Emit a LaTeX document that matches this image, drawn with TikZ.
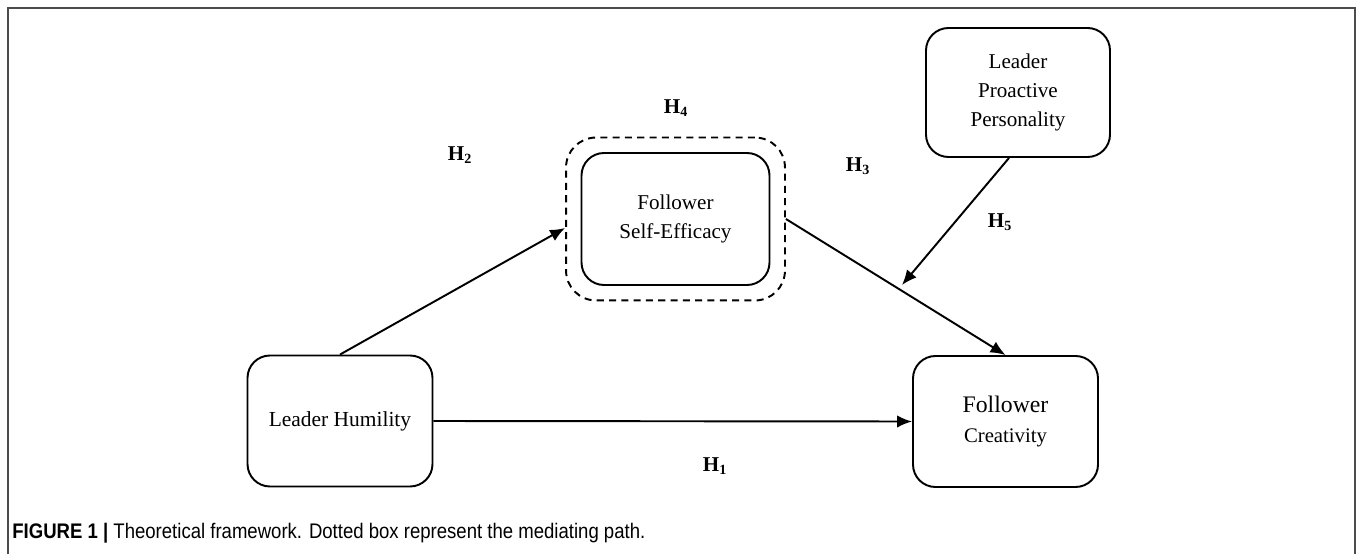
\documentclass[tikz,border=0pt]{standalone}
\usepackage{fontspec}
\setmainfont{Liberation Serif}
\newfontfamily\capfont[FakeStretch=0.88]{Liberation Sans}
\usetikzlibrary{arrows.meta, positioning, calc, fit}

\begin{document}
\begin{tikzpicture}[
        block/.style={draw, line width=1.1pt, rounded corners=0.45cm, minimum width=3.7cm, minimum height=2.62cm, align=center, font=\fontsize{12.2}{17}\selectfont},
        arrow/.style={-{Latex[length=3mm, width=2.5mm]}, line width=1.1pt},
        hyp/.style={font=\fontsize{12}{14}\selectfont\bfseries}
    ]
        \useasboundingbox (0,0) rectangle (27.16,11.08);

        % Frame
        \draw[black!70, line width=1pt] (0.16,0) -- (0.16,10.92) -- (27.10,10.92) -- (27.10,0);

        % Leader humility
        \node[block] (hum) at (6.80, 2.66) {Leader Humility};

        % Mediator
        \node[block, minimum width=3.76cm, minimum height=2.64cm, font=\fontsize{12}{17}\selectfont] (eff) at (13.51, 6.70) {Follower\\Self-Efficacy};
        \node[draw, dash pattern=on 4pt off 3pt, line width=1.1pt, rounded corners=0.6cm, fit=(eff), inner sep=0.29cm] (med) {};

        % Moderator
        \node[block, minimum width=3.68cm, minimum height=2.58cm, font=\fontsize{12}{16.5}\selectfont] (lpp) at (20.36, 9.23) {Leader\\Proactive\\Personality};

        % Outcome
        \node[block, font=\fontsize{11.8}{17.6}\selectfont] (cre) at (20.11, 2.65) {{\fontsize{13.5}{17.6}\selectfont Follower}\\Creativity};

        \coordinate (mod) at (18.04, 5.38);

        % Arrows
        \draw[arrow] (hum.north) -- ([yshift=-0.18cm]med.west);
        \draw[arrow] (hum.east) -- (cre.west);
        \draw[arrow] (med.east) -- (cre.north);
        \draw[arrow] ([xshift=-0.18cm]lpp.south) -- (mod);

        % Hypotheses
        \node[hyp] (h1) at (14.30, 1.76) {H\textsubscript{1}};
        \node[hyp] (h2) at (9.20, 7.98) {H\textsubscript{2}};
        \node[hyp] (h3) at (17.16, 7.76) {H\textsubscript{3}};
        \node[hyp] (h4) at (13.52, 8.92) {H\textsubscript{4}};
        \node[hyp] (h5) at (20.00, 6.64) {H\textsubscript{5}};

        % Caption
        \node[anchor=west, inner sep=0pt, font=\capfont\fontsize{12}{14}\selectfont] (cap) at (0.24, 0.42) {\textbf{FIGURE 1 |} Theoretical framework. Dotted box represent the mediating path.};
    \end{tikzpicture}
\end{document}
